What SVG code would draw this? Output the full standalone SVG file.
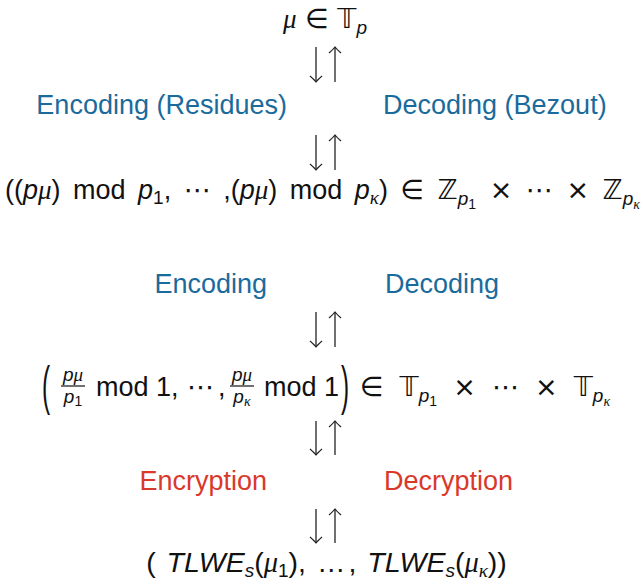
<svg xmlns="http://www.w3.org/2000/svg" width="643" height="585" viewBox="0 0 643 585">
<defs>
<style>
text{font-family:"Liberation Sans","DejaVu Sans",sans-serif;font-size:27px;fill:#111}
.blue{fill:#1a6b9c}
.red{fill:#d8392b}
.gk{font-family:"Liberation Serif","DejaVu Serif",serif;font-style:italic}
.it{font-style:italic}
.sym{font-family:"DejaVu Sans",sans-serif}
.sub{font-size:19px}
.ss{font-size:14px}
.fr{font-size:19px}
.bar{stroke:#111;stroke-width:1.2}
.arr{stroke:#222;stroke-width:1.3;fill:none;marker-end:url(#ah)}
</style>
<marker id="ah" viewBox="-8 -8 10 16" refX="0" refY="0" markerWidth="10" markerHeight="16" orient="auto" markerUnits="userSpaceOnUse">
<path d="M-6,-6 Q-2,-1.5 0,0 Q-2,1.5 -6,6" fill="none" stroke="#222" stroke-width="1.2"/>
</marker>
</defs>
<rect width="643" height="585" fill="#fff"/>

<g id="connectors">
<line class="arr" x1="316" y1="47" x2="316" y2="82"/>
<line class="arr" x1="335" y1="82" x2="335" y2="47"/>
<line class="arr" x1="316" y1="135" x2="316" y2="170"/>
<line class="arr" x1="335" y1="170" x2="335" y2="135"/>
<line class="arr" x1="316" y1="312" x2="316" y2="347"/>
<line class="arr" x1="335" y1="347" x2="335" y2="312"/>
<line class="arr" x1="316" y1="421" x2="316" y2="455"/>
<line class="arr" x1="335" y1="455" x2="335" y2="421"/>
<line class="arr" x1="316" y1="509" x2="316" y2="543"/>
<line class="arr" x1="335" y1="543" x2="335" y2="509"/>
</g>

<g id="n-mu">
<text x="325" y="28" text-anchor="middle"><tspan class="gk">μ</tspan><tspan class="sym"> ∈ 𝕋</tspan><tspan class="sub it" dy="6">p</tspan></text>
</g>

<g id="lbl-enc-res"><text class="blue" x="287" y="114" text-anchor="end">Encoding (Residues)</text></g>
<g id="lbl-dec-bez"><text class="blue" x="383" y="114">Decoding (Bezout)</text></g>

<g id="n-residues">
<text x="322.5" y="199" text-anchor="middle" word-spacing="5">((<tspan class="it">p</tspan><tspan class="gk">μ</tspan>) mod <tspan class="it">p</tspan><tspan class="sub" dy="5">1</tspan><tspan dy="-5">, </tspan><tspan class="sym">⋯</tspan> ,(<tspan class="it">p</tspan><tspan class="gk">μ</tspan>) mod <tspan class="it">p</tspan><tspan class="sub gk" dy="5">κ</tspan><tspan dy="-5">) </tspan><tspan class="sym">∈ ℤ</tspan><tspan class="sub it" dy="6">p</tspan><tspan class="ss" dy="4">1</tspan><tspan class="sym" dy="-10"> × ⋯ × ℤ</tspan><tspan class="sub it" dy="6">p</tspan><tspan class="ss gk" dy="4">κ</tspan></text>
</g>

<g id="lbl-enc"><text class="blue" x="267" y="293" text-anchor="end">Encoding</text></g>
<g id="lbl-dec"><text class="blue" x="385" y="293">Decoding</text></g>

<g id="n-torus">
<text transform="translate(42,404) scale(0.9,2)">(</text>
<text class="fr it" x="73" y="381" text-anchor="middle">p<tspan class="gk">μ</tspan></text>
<line class="bar" x1="61" y1="386" x2="85" y2="386"/>
<text class="fr it" x="73" y="403" text-anchor="middle">p<tspan class="ss" style="font-style:normal" dy="3">1</tspan></text>
<text x="96" y="396">mod 1,</text>
<text class="sym" x="187" y="396">⋯</text>
<text x="218" y="396">,</text>
<text class="fr it" x="242" y="381" text-anchor="middle">p<tspan class="gk">μ</tspan></text>
<line class="bar" x1="230" y1="386" x2="254" y2="386"/>
<text class="fr it" x="242" y="403" text-anchor="middle">p<tspan class="ss gk" dy="3">κ</tspan></text>
<text x="264" y="396">mod 1</text>
<text transform="translate(341,404) scale(0.9,2)">)</text>
<text x="360" y="396" word-spacing="7.5"><tspan class="sym">∈ 𝕋</tspan><tspan class="sub it" dy="6">p</tspan><tspan class="ss" dy="4">1</tspan><tspan class="sym" dy="-10"> × ⋯ × 𝕋</tspan><tspan class="sub it" dy="6">p</tspan><tspan class="ss gk" dy="4">κ</tspan></text>
</g>

<g id="lbl-encr"><text class="red" x="267" y="490" text-anchor="end">Encryption</text></g>
<g id="lbl-decr"><text class="red" x="384" y="490">Decryption</text></g>

<g id="n-tlwe">
<text x="326.5" y="572" text-anchor="middle" style="font-size:28.5px" word-spacing="3">( <tspan class="it">TLWE</tspan><tspan class="sub it" dy="5">s</tspan><tspan dy="-5">(</tspan><tspan class="gk">μ</tspan><tspan class="sub" dy="5">1</tspan><tspan dy="-5">), </tspan><tspan letter-spacing="3">…</tspan>, <tspan class="it">TLWE</tspan><tspan class="sub it" dy="5">s</tspan><tspan dy="-5">(</tspan><tspan class="gk">μ</tspan><tspan class="sub gk" dy="5">κ</tspan><tspan dy="-5">))</tspan></text>
</g>
</svg>
